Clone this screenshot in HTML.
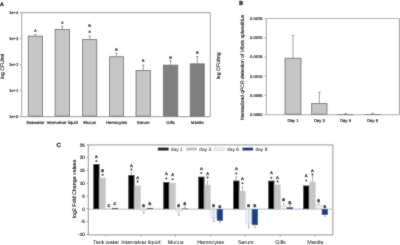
<!DOCTYPE html>
<html><head><meta charset="utf-8"><style>
html,body{margin:0;padding:0;background:#fff;}
body{width:400px;height:245px;overflow:hidden;}
svg{display:block;}
#w{width:400px;height:245px;will-change:transform;}
text{font-family:"Liberation Sans", sans-serif;text-rendering:geometricPrecision;}
</style></head><body>
<div id="w"><svg width="400" height="245" viewBox="0 0 400 245">
<defs><filter id="bl" x="0" y="0" width="400" height="245" filterUnits="userSpaceOnUse"><feConvolveMatrix order="3" kernelMatrix="1 2 1 2 20 2 1 2 1" divisor="32" edgeMode="duplicate"/></filter></defs>
<g filter="url(#bl)">
<rect x="0" y="0" width="400" height="245" fill="#fff"/>
<text x="0.00" y="6.20" font-size="5.4" text-anchor="start" font-weight="bold" font-style="normal" fill="#000" stroke="#000" stroke-width="0.3">A</text>
<line x1="21.70" y1="12.60" x2="210.30" y2="12.60" stroke="#a9a9a9" stroke-width="1.15"/>
<line x1="210.30" y1="12.60" x2="210.30" y2="116.60" stroke="#a9a9a9" stroke-width="1.15"/>
<line x1="21.70" y1="12.60" x2="21.70" y2="116.60" stroke="#a9a9a9" stroke-width="1.15"/>
<line x1="21.70" y1="116.60" x2="210.30" y2="116.60" stroke="#a9a9a9" stroke-width="1.15"/>
<line x1="19.90" y1="12.60" x2="21.70" y2="12.60" stroke="#a9a9a9" stroke-width="1.15"/>
<text x="18.40" y="14.10" font-size="4.2" text-anchor="end" font-weight="normal" font-style="normal" fill="#1a1a1a" stroke="#1a1a1a" stroke-width="0.2">1e+4</text>
<line x1="19.90" y1="38.60" x2="21.70" y2="38.60" stroke="#a9a9a9" stroke-width="1.15"/>
<text x="18.40" y="40.10" font-size="4.2" text-anchor="end" font-weight="normal" font-style="normal" fill="#1a1a1a" stroke="#1a1a1a" stroke-width="0.2">1e+3</text>
<line x1="19.90" y1="64.60" x2="21.70" y2="64.60" stroke="#a9a9a9" stroke-width="1.15"/>
<text x="18.40" y="66.10" font-size="4.2" text-anchor="end" font-weight="normal" font-style="normal" fill="#1a1a1a" stroke="#1a1a1a" stroke-width="0.2">1e+2</text>
<line x1="19.90" y1="90.60" x2="21.70" y2="90.60" stroke="#a9a9a9" stroke-width="1.15"/>
<text x="18.40" y="92.10" font-size="4.2" text-anchor="end" font-weight="normal" font-style="normal" fill="#1a1a1a" stroke="#1a1a1a" stroke-width="0.2">1e+1</text>
<line x1="19.90" y1="116.60" x2="21.70" y2="116.60" stroke="#a9a9a9" stroke-width="1.15"/>
<text x="18.40" y="118.10" font-size="4.2" text-anchor="end" font-weight="normal" font-style="normal" fill="#1a1a1a" stroke="#1a1a1a" stroke-width="0.2">1e+0</text>
<text x="4.40" y="66.30" font-size="5.0" text-anchor="middle" font-weight="normal" font-style="normal" fill="#1a1a1a" stroke="#1a1a1a" stroke-width="0.2" transform="rotate(-90 4.4 66.3)">log CFU/ml</text>
<text x="220.10" y="65.90" font-size="5.0" text-anchor="middle" font-weight="normal" font-style="normal" fill="#1a1a1a" stroke="#1a1a1a" stroke-width="0.2" transform="rotate(-90 220.1 65.9)">log CFU/mg</text>
<line x1="35.40" y1="35.70" x2="35.40" y2="34.40" stroke="#555" stroke-width="0.6"/>
<line x1="34.20" y1="34.40" x2="36.60" y2="34.40" stroke="#555" stroke-width="0.6"/>
<rect x="28.25" y="36.15" width="14.30" height="80.00" fill="#c6c6c6" stroke="#707070" stroke-width="0.9"/>
<text x="35.40" y="32.47" font-size="3.8" text-anchor="middle" font-weight="bold" font-style="normal" fill="#1a1a1a" stroke="#1a1a1a" stroke-width="0.15">A</text>
<text x="35.40" y="123.80" font-size="4.3" text-anchor="middle" font-weight="normal" font-style="normal" fill="#1a1a1a" stroke="#1a1a1a" stroke-width="0.2">Seawater</text>
<line x1="62.30" y1="29.10" x2="62.30" y2="26.30" stroke="#555" stroke-width="0.6"/>
<line x1="61.10" y1="26.30" x2="63.50" y2="26.30" stroke="#555" stroke-width="0.6"/>
<rect x="55.15" y="29.55" width="14.30" height="86.60" fill="#c6c6c6" stroke="#707070" stroke-width="0.9"/>
<text x="62.30" y="23.87" font-size="3.8" text-anchor="middle" font-weight="bold" font-style="normal" fill="#1a1a1a" stroke="#1a1a1a" stroke-width="0.15">A</text>
<text x="62.30" y="123.80" font-size="4.3" text-anchor="middle" font-weight="normal" font-style="normal" fill="#1a1a1a" stroke="#1a1a1a" stroke-width="0.2">Intervalvar liquid</text>
<line x1="89.70" y1="39.10" x2="89.70" y2="36.00" stroke="#555" stroke-width="0.6"/>
<line x1="88.50" y1="36.00" x2="90.90" y2="36.00" stroke="#555" stroke-width="0.6"/>
<rect x="82.65" y="39.55" width="14.10" height="76.60" fill="#c6c6c6" stroke="#707070" stroke-width="0.9"/>
<text x="89.70" y="27.27" font-size="3.8" text-anchor="middle" font-weight="bold" font-style="normal" fill="#1a1a1a" stroke="#1a1a1a" stroke-width="0.15">B</text>
<text x="89.70" y="32.97" font-size="3.8" text-anchor="middle" font-weight="bold" font-style="normal" fill="#1a1a1a" stroke="#1a1a1a" stroke-width="0.15">A</text>
<text x="89.70" y="123.80" font-size="4.3" text-anchor="middle" font-weight="normal" font-style="normal" fill="#1a1a1a" stroke="#1a1a1a" stroke-width="0.2">Mucus</text>
<line x1="116.45" y1="56.30" x2="116.45" y2="53.40" stroke="#555" stroke-width="0.6"/>
<line x1="115.25" y1="53.40" x2="117.65" y2="53.40" stroke="#555" stroke-width="0.6"/>
<rect x="109.45" y="56.75" width="14.00" height="59.40" fill="#c6c6c6" stroke="#707070" stroke-width="0.9"/>
<text x="116.45" y="50.77" font-size="3.8" text-anchor="middle" font-weight="bold" font-style="normal" fill="#1a1a1a" stroke="#1a1a1a" stroke-width="0.15">B</text>
<text x="116.45" y="123.80" font-size="4.3" text-anchor="middle" font-weight="normal" font-style="normal" fill="#1a1a1a" stroke="#1a1a1a" stroke-width="0.2">Hemocytes</text>
<line x1="143.20" y1="70.10" x2="143.20" y2="65.20" stroke="#555" stroke-width="0.6"/>
<line x1="142.00" y1="65.20" x2="144.40" y2="65.20" stroke="#555" stroke-width="0.6"/>
<rect x="136.05" y="70.55" width="14.30" height="45.60" fill="#c6c6c6" stroke="#707070" stroke-width="0.9"/>
<text x="143.20" y="62.37" font-size="3.8" text-anchor="middle" font-weight="bold" font-style="normal" fill="#1a1a1a" stroke="#1a1a1a" stroke-width="0.15">B</text>
<text x="143.20" y="123.80" font-size="4.3" text-anchor="middle" font-weight="normal" font-style="normal" fill="#1a1a1a" stroke="#1a1a1a" stroke-width="0.2">Serum</text>
<line x1="170.55" y1="64.70" x2="170.55" y2="60.60" stroke="#555" stroke-width="0.6"/>
<line x1="169.35" y1="60.60" x2="171.75" y2="60.60" stroke="#555" stroke-width="0.6"/>
<rect x="163.35" y="65.15" width="14.40" height="51.00" fill="#808080" stroke="#707070" stroke-width="0.9"/>
<text x="170.55" y="58.87" font-size="3.8" text-anchor="middle" font-weight="bold" font-style="normal" fill="#1a1a1a" stroke="#1a1a1a" stroke-width="0.15">B</text>
<text x="170.55" y="123.80" font-size="4.3" text-anchor="middle" font-weight="normal" font-style="normal" fill="#1a1a1a" stroke="#1a1a1a" stroke-width="0.2">Gills</text>
<line x1="197.25" y1="63.40" x2="197.25" y2="56.60" stroke="#555" stroke-width="0.6"/>
<line x1="196.05" y1="56.60" x2="198.45" y2="56.60" stroke="#555" stroke-width="0.6"/>
<rect x="190.25" y="63.85" width="14.00" height="52.30" fill="#808080" stroke="#707070" stroke-width="0.9"/>
<text x="197.25" y="54.17" font-size="3.8" text-anchor="middle" font-weight="bold" font-style="normal" fill="#1a1a1a" stroke="#1a1a1a" stroke-width="0.15">B</text>
<text x="197.25" y="123.80" font-size="4.3" text-anchor="middle" font-weight="normal" font-style="normal" fill="#1a1a1a" stroke="#1a1a1a" stroke-width="0.2">Mantle</text>
<text x="239.10" y="4.70" font-size="5.9" text-anchor="start" font-weight="bold" font-style="normal" fill="#000" stroke="#000" stroke-width="0.3">B</text>
<line x1="266.30" y1="18.50" x2="399.40" y2="18.50" stroke="#a9a9a9" stroke-width="1.15"/>
<line x1="399.40" y1="18.50" x2="399.40" y2="114.70" stroke="#a9a9a9" stroke-width="1.15"/>
<line x1="266.30" y1="18.50" x2="266.30" y2="114.70" stroke="#a9a9a9" stroke-width="1.15"/>
<line x1="266.30" y1="114.70" x2="399.40" y2="114.70" stroke="#a9a9a9" stroke-width="1.15"/>
<line x1="264.50" y1="18.50" x2="266.30" y2="18.50" stroke="#a9a9a9" stroke-width="1.15"/>
<text x="262.50" y="19.95" font-size="4.05" text-anchor="end" font-weight="normal" font-style="normal" fill="#1a1a1a" stroke="#1a1a1a" stroke-width="0.2">0.0025</text>
<line x1="264.50" y1="37.74" x2="266.30" y2="37.74" stroke="#a9a9a9" stroke-width="1.15"/>
<text x="262.50" y="39.19" font-size="4.05" text-anchor="end" font-weight="normal" font-style="normal" fill="#1a1a1a" stroke="#1a1a1a" stroke-width="0.2">0.0020</text>
<line x1="264.50" y1="56.98" x2="266.30" y2="56.98" stroke="#a9a9a9" stroke-width="1.15"/>
<text x="262.50" y="58.43" font-size="4.05" text-anchor="end" font-weight="normal" font-style="normal" fill="#1a1a1a" stroke="#1a1a1a" stroke-width="0.2">0.0015</text>
<line x1="264.50" y1="76.22" x2="266.30" y2="76.22" stroke="#a9a9a9" stroke-width="1.15"/>
<text x="262.50" y="77.67" font-size="4.05" text-anchor="end" font-weight="normal" font-style="normal" fill="#1a1a1a" stroke="#1a1a1a" stroke-width="0.2">0.0010</text>
<line x1="264.50" y1="95.46" x2="266.30" y2="95.46" stroke="#a9a9a9" stroke-width="1.15"/>
<text x="262.50" y="96.91" font-size="4.05" text-anchor="end" font-weight="normal" font-style="normal" fill="#1a1a1a" stroke="#1a1a1a" stroke-width="0.2">0.0005</text>
<line x1="264.50" y1="114.70" x2="266.30" y2="114.70" stroke="#a9a9a9" stroke-width="1.15"/>
<text x="262.50" y="116.15" font-size="4.05" text-anchor="end" font-weight="normal" font-style="normal" fill="#1a1a1a" stroke="#1a1a1a" stroke-width="0.2">0.0000</text>
<text x="244.0" y="67.4" font-size="4.95" text-anchor="middle" fill="#1a1a1a" stroke="#1a1a1a" stroke-width="0.2" transform="rotate(-90 244.0 67.4)">Normalized qPCR detection of <tspan font-style="italic">Vibrio splendidus</tspan></text>
<line x1="293.00" y1="57.80" x2="293.00" y2="35.40" stroke="#555" stroke-width="0.6"/>
<line x1="291.80" y1="35.40" x2="294.20" y2="35.40" stroke="#555" stroke-width="0.6"/>
<rect x="285.05" y="58.25" width="15.90" height="56.00" fill="#c6c6c6" stroke="#707070" stroke-width="0.9"/>
<text x="293.00" y="122.40" font-size="4.3" text-anchor="middle" font-weight="normal" font-style="normal" fill="#1a1a1a" stroke="#1a1a1a" stroke-width="0.2">Day 1</text>
<line x1="319.30" y1="103.00" x2="319.30" y2="92.30" stroke="#555" stroke-width="0.6"/>
<line x1="318.10" y1="92.30" x2="320.50" y2="92.30" stroke="#555" stroke-width="0.6"/>
<rect x="311.65" y="103.45" width="15.30" height="10.80" fill="#c6c6c6" stroke="#707070" stroke-width="0.9"/>
<text x="319.30" y="122.40" font-size="4.3" text-anchor="middle" font-weight="normal" font-style="normal" fill="#1a1a1a" stroke="#1a1a1a" stroke-width="0.2">Day 3</text>
<line x1="345.50" y1="114.20" x2="345.50" y2="113.60" stroke="#555" stroke-width="0.6"/>
<line x1="344.30" y1="113.60" x2="346.70" y2="113.60" stroke="#555" stroke-width="0.6"/>
<rect x="338.05" y="114.65" width="14.90" height="0.01" fill="#c6c6c6" stroke="#707070" stroke-width="0.9"/>
<text x="345.50" y="122.40" font-size="4.3" text-anchor="middle" font-weight="normal" font-style="normal" fill="#1a1a1a" stroke="#1a1a1a" stroke-width="0.2">Day 6</text>
<line x1="372.60" y1="114.00" x2="372.60" y2="113.20" stroke="#555" stroke-width="0.6"/>
<line x1="371.40" y1="113.20" x2="373.80" y2="113.20" stroke="#555" stroke-width="0.6"/>
<rect x="364.85" y="114.45" width="15.50" height="0.01" fill="#c6c6c6" stroke="#707070" stroke-width="0.9"/>
<text x="372.60" y="122.40" font-size="4.3" text-anchor="middle" font-weight="normal" font-style="normal" fill="#1a1a1a" stroke="#1a1a1a" stroke-width="0.2">Day 8</text>
<text x="56.60" y="147.00" font-size="6.0" text-anchor="start" font-weight="bold" font-style="normal" fill="#000" stroke="#000" stroke-width="0.3">C</text>
<line x1="88.30" y1="144.90" x2="332.90" y2="144.90" stroke="#8c8c8c" stroke-width="0.95"/>
<line x1="332.90" y1="144.90" x2="332.90" y2="234.90" stroke="#8c8c8c" stroke-width="0.95"/>
<line x1="88.30" y1="144.90" x2="88.30" y2="234.90" stroke="#8c8c8c" stroke-width="0.95"/>
<line x1="88.30" y1="234.90" x2="332.90" y2="234.90" stroke="#8c8c8c" stroke-width="0.95"/>
<line x1="88.30" y1="209.10" x2="332.90" y2="209.10" stroke="#aaa" stroke-width="0.8"/>
<line x1="86.70" y1="144.90" x2="88.30" y2="144.90" stroke="#8c8c8c" stroke-width="0.95"/>
<text x="85.00" y="146.60" font-size="4.8" text-anchor="end" font-weight="normal" font-style="normal" fill="#000" stroke="#000" stroke-width="0.15">25</text>
<line x1="86.70" y1="157.69" x2="88.30" y2="157.69" stroke="#8c8c8c" stroke-width="0.95"/>
<text x="85.00" y="159.39" font-size="4.8" text-anchor="end" font-weight="normal" font-style="normal" fill="#000" stroke="#000" stroke-width="0.15">20</text>
<line x1="86.70" y1="170.47" x2="88.30" y2="170.47" stroke="#8c8c8c" stroke-width="0.95"/>
<text x="85.00" y="172.17" font-size="4.8" text-anchor="end" font-weight="normal" font-style="normal" fill="#000" stroke="#000" stroke-width="0.15">15</text>
<line x1="86.70" y1="183.26" x2="88.30" y2="183.26" stroke="#8c8c8c" stroke-width="0.95"/>
<text x="85.00" y="184.96" font-size="4.8" text-anchor="end" font-weight="normal" font-style="normal" fill="#000" stroke="#000" stroke-width="0.15">10</text>
<line x1="86.70" y1="196.04" x2="88.30" y2="196.04" stroke="#8c8c8c" stroke-width="0.95"/>
<text x="85.00" y="197.74" font-size="4.8" text-anchor="end" font-weight="normal" font-style="normal" fill="#000" stroke="#000" stroke-width="0.15">5</text>
<line x1="86.70" y1="208.83" x2="88.30" y2="208.83" stroke="#8c8c8c" stroke-width="0.95"/>
<text x="85.00" y="210.53" font-size="4.8" text-anchor="end" font-weight="normal" font-style="normal" fill="#000" stroke="#000" stroke-width="0.15">0</text>
<line x1="86.70" y1="221.61" x2="88.30" y2="221.61" stroke="#8c8c8c" stroke-width="0.95"/>
<text x="85.00" y="223.31" font-size="4.8" text-anchor="end" font-weight="normal" font-style="normal" fill="#000" stroke="#000" stroke-width="0.15">-5</text>
<line x1="86.70" y1="234.40" x2="88.30" y2="234.40" stroke="#8c8c8c" stroke-width="0.95"/>
<text x="85.00" y="236.10" font-size="4.8" text-anchor="end" font-weight="normal" font-style="normal" fill="#000" stroke="#000" stroke-width="0.15">-10</text>
<text x="75.60" y="188.90" font-size="5.3" text-anchor="middle" font-weight="normal" font-style="normal" fill="#000" stroke="#000" stroke-width="0.15" transform="rotate(-90 75.6 188.9)">log2 Fold Change values</text>
<rect x="157.80" y="147.60" width="10.80" height="2.90" fill="#000"/>
<text x="170.80" y="151.20" font-size="4.9" text-anchor="start" font-weight="normal" font-style="normal" fill="#222" stroke="#222" stroke-width="0.05">day 1</text>
<rect x="186.20" y="147.60" width="10.80" height="2.90" fill="#bdbdbd"/>
<text x="199.20" y="151.20" font-size="4.9" text-anchor="start" font-weight="normal" font-style="normal" fill="#222" stroke="#222" stroke-width="0.05">day 3</text>
<rect x="214.30" y="147.90" width="10.20" height="2.40" fill="#ecf2fa" stroke="#b4cbe4" stroke-width="0.6"/>
<text x="227.00" y="151.20" font-size="4.9" text-anchor="start" font-weight="normal" font-style="normal" fill="#222" stroke="#222" stroke-width="0.05">day 6</text>
<rect x="242.40" y="147.60" width="10.80" height="2.90" fill="#0e3272"/>
<text x="255.40" y="151.20" font-size="4.9" text-anchor="start" font-weight="normal" font-style="normal" fill="#222" stroke="#222" stroke-width="0.05">day 8</text>
<rect x="93.30" y="164.10" width="6.20" height="45.00" fill="#000"/>
<text x="96.40" y="157.90" font-size="3.9" text-anchor="middle" font-weight="bold" font-style="normal" fill="#111" stroke="#111" stroke-width="0.3">A</text>
<circle cx="96.40" cy="161.10" r="1.0" fill="#111"/>
<rect x="99.50" y="177.70" width="6.20" height="31.40" fill="#c6c6c6"/>
<text x="102.60" y="171.80" font-size="3.9" text-anchor="middle" font-weight="bold" font-style="normal" fill="#111" stroke="#111" stroke-width="0.3">B</text>
<circle cx="102.60" cy="174.70" r="1.0" fill="#111"/>
<text x="108.80" y="206.60" font-size="3.9" text-anchor="middle" font-weight="bold" font-style="normal" fill="#111" stroke="#111" stroke-width="0.3">C</text>
<rect x="112.15" y="208.15" width="5.70" height="0.70" fill="#17428c" stroke="#0f3068" stroke-width="0.5"/>
<text x="115.00" y="204.90" font-size="3.9" text-anchor="middle" font-weight="bold" font-style="normal" fill="#111" stroke="#111" stroke-width="0.3">C</text>
<line x1="105.70" y1="234.90" x2="105.70" y2="236.30" stroke="#8c8c8c" stroke-width="0.95"/>
<text x="106.00" y="243.70" font-size="5.4" text-anchor="middle" font-weight="normal" font-style="normal" fill="#1a1a1a" stroke="#1a1a1a" stroke-width="0.06">Tank water</text>
<line x1="131.38" y1="175.00" x2="131.38" y2="172.80" stroke="#666" stroke-width="0.5"/>
<line x1="130.58" y1="172.80" x2="132.18" y2="172.80" stroke="#666" stroke-width="0.5"/>
<rect x="128.28" y="175.00" width="6.20" height="34.10" fill="#000"/>
<text x="131.38" y="166.80" font-size="3.9" text-anchor="middle" font-weight="bold" font-style="normal" fill="#111" stroke="#111" stroke-width="0.3">A</text>
<circle cx="131.38" cy="169.40" r="1.0" fill="#111"/>
<rect x="134.48" y="185.50" width="6.20" height="23.60" fill="#c6c6c6"/>
<text x="137.58" y="178.70" font-size="3.9" text-anchor="middle" font-weight="bold" font-style="normal" fill="#111" stroke="#111" stroke-width="0.3">A</text>
<circle cx="137.58" cy="181.40" r="1.0" fill="#111"/>
<line x1="143.78" y1="211.20" x2="143.78" y2="213.20" stroke="#666" stroke-width="0.5"/>
<line x1="142.98" y1="213.20" x2="144.58" y2="213.20" stroke="#666" stroke-width="0.5"/>
<rect x="140.93" y="209.35" width="5.70" height="1.60" fill="#ecf2fa" stroke="#b4cbe4" stroke-width="0.5"/>
<text x="143.78" y="207.40" font-size="3.9" text-anchor="middle" font-weight="bold" font-style="normal" fill="#111" stroke="#111" stroke-width="0.3">B</text>
<rect x="147.13" y="208.15" width="5.70" height="0.70" fill="#17428c" stroke="#0f3068" stroke-width="0.5"/>
<text x="149.98" y="204.80" font-size="3.9" text-anchor="middle" font-weight="bold" font-style="normal" fill="#111" stroke="#111" stroke-width="0.3">B</text>
<line x1="140.60" y1="234.90" x2="140.60" y2="236.30" stroke="#8c8c8c" stroke-width="0.95"/>
<text x="140.90" y="243.70" font-size="5.4" text-anchor="middle" font-weight="normal" font-style="normal" fill="#1a1a1a" stroke="#1a1a1a" stroke-width="0.06">Intervalvar liquid</text>
<rect x="163.26" y="182.00" width="6.20" height="27.10" fill="#000"/>
<text x="166.36" y="175.40" font-size="3.9" text-anchor="middle" font-weight="bold" font-style="normal" fill="#111" stroke="#111" stroke-width="0.3">A</text>
<circle cx="166.36" cy="178.40" r="1.0" fill="#111"/>
<rect x="169.46" y="183.00" width="6.20" height="26.10" fill="#c6c6c6"/>
<text x="172.56" y="176.40" font-size="3.9" text-anchor="middle" font-weight="bold" font-style="normal" fill="#111" stroke="#111" stroke-width="0.3">A</text>
<circle cx="172.56" cy="179.30" r="1.0" fill="#111"/>
<line x1="178.76" y1="211.90" x2="178.76" y2="215.60" stroke="#666" stroke-width="0.5"/>
<line x1="177.96" y1="215.60" x2="179.56" y2="215.60" stroke="#666" stroke-width="0.5"/>
<rect x="175.91" y="209.35" width="5.70" height="2.30" fill="#ecf2fa" stroke="#b4cbe4" stroke-width="0.5"/>
<text x="178.76" y="207.20" font-size="3.9" text-anchor="middle" font-weight="bold" font-style="normal" fill="#111" stroke="#111" stroke-width="0.3">B</text>
<line x1="184.96" y1="208.60" x2="184.96" y2="206.80" stroke="#666" stroke-width="0.5"/>
<line x1="184.16" y1="206.80" x2="185.76" y2="206.80" stroke="#666" stroke-width="0.5"/>
<rect x="182.11" y="208.85" width="5.70" height="0.01" fill="#17428c" stroke="#0f3068" stroke-width="0.5"/>
<text x="184.96" y="204.80" font-size="3.9" text-anchor="middle" font-weight="bold" font-style="normal" fill="#111" stroke="#111" stroke-width="0.3">B</text>
<line x1="175.50" y1="234.90" x2="175.50" y2="236.30" stroke="#8c8c8c" stroke-width="0.95"/>
<text x="175.80" y="243.70" font-size="5.4" text-anchor="middle" font-weight="normal" font-style="normal" fill="#1a1a1a" stroke="#1a1a1a" stroke-width="0.06">Mucus</text>
<rect x="198.24" y="176.70" width="6.20" height="32.40" fill="#000"/>
<text x="201.34" y="170.40" font-size="3.9" text-anchor="middle" font-weight="bold" font-style="normal" fill="#111" stroke="#111" stroke-width="0.3">A</text>
<circle cx="201.34" cy="173.10" r="1.0" fill="#111"/>
<line x1="207.54" y1="184.80" x2="207.54" y2="181.20" stroke="#666" stroke-width="0.5"/>
<line x1="206.74" y1="181.20" x2="208.34" y2="181.20" stroke="#666" stroke-width="0.5"/>
<rect x="204.44" y="184.80" width="6.20" height="24.30" fill="#c6c6c6"/>
<text x="207.54" y="174.90" font-size="3.9" text-anchor="middle" font-weight="bold" font-style="normal" fill="#111" stroke="#111" stroke-width="0.3">A</text>
<circle cx="207.54" cy="177.60" r="1.0" fill="#111"/>
<line x1="213.74" y1="218.10" x2="213.74" y2="221.60" stroke="#666" stroke-width="0.5"/>
<line x1="212.94" y1="221.60" x2="214.54" y2="221.60" stroke="#666" stroke-width="0.5"/>
<rect x="210.89" y="209.35" width="5.70" height="8.50" fill="#ecf2fa" stroke="#b4cbe4" stroke-width="0.5"/>
<line x1="213.74" y1="210.10" x2="213.74" y2="218.10" stroke="#a8b4c4" stroke-width="0.5"/>
<text x="213.74" y="207.00" font-size="3.9" text-anchor="middle" font-weight="bold" font-style="normal" fill="#111" stroke="#111" stroke-width="0.3">B</text>
<line x1="219.94" y1="220.90" x2="219.94" y2="222.70" stroke="#666" stroke-width="0.5"/>
<line x1="219.14" y1="222.70" x2="220.74" y2="222.70" stroke="#666" stroke-width="0.5"/>
<rect x="217.09" y="209.35" width="5.70" height="11.30" fill="#17428c" stroke="#0f3068" stroke-width="0.5"/>
<text x="219.94" y="207.60" font-size="3.9" text-anchor="middle" font-weight="bold" font-style="normal" fill="#111" stroke="#111" stroke-width="0.3">B</text>
<line x1="210.40" y1="234.90" x2="210.40" y2="236.30" stroke="#8c8c8c" stroke-width="0.95"/>
<text x="210.70" y="243.70" font-size="5.4" text-anchor="middle" font-weight="normal" font-style="normal" fill="#1a1a1a" stroke="#1a1a1a" stroke-width="0.06">Hemocytes</text>
<line x1="236.32" y1="180.60" x2="236.32" y2="176.70" stroke="#666" stroke-width="0.5"/>
<line x1="235.52" y1="176.70" x2="237.12" y2="176.70" stroke="#666" stroke-width="0.5"/>
<rect x="233.22" y="180.60" width="6.20" height="28.50" fill="#000"/>
<text x="236.32" y="170.40" font-size="3.9" text-anchor="middle" font-weight="bold" font-style="normal" fill="#111" stroke="#111" stroke-width="0.3">A</text>
<circle cx="236.32" cy="173.50" r="1.0" fill="#111"/>
<line x1="242.52" y1="190.80" x2="242.52" y2="186.80" stroke="#666" stroke-width="0.5"/>
<line x1="241.72" y1="186.80" x2="243.32" y2="186.80" stroke="#666" stroke-width="0.5"/>
<rect x="239.42" y="190.80" width="6.20" height="18.30" fill="#c6c6c6"/>
<text x="242.52" y="180.30" font-size="3.9" text-anchor="middle" font-weight="bold" font-style="normal" fill="#111" stroke="#111" stroke-width="0.3">A</text>
<circle cx="242.52" cy="183.20" r="1.0" fill="#111"/>
<line x1="248.72" y1="223.70" x2="248.72" y2="227.90" stroke="#666" stroke-width="0.5"/>
<line x1="247.92" y1="227.90" x2="249.52" y2="227.90" stroke="#666" stroke-width="0.5"/>
<rect x="245.87" y="209.35" width="5.70" height="14.10" fill="#ecf2fa" stroke="#b4cbe4" stroke-width="0.5"/>
<line x1="248.72" y1="210.10" x2="248.72" y2="223.70" stroke="#a8b4c4" stroke-width="0.5"/>
<text x="248.72" y="206.80" font-size="3.9" text-anchor="middle" font-weight="bold" font-style="normal" fill="#111" stroke="#111" stroke-width="0.3">B</text>
<line x1="254.92" y1="225.10" x2="254.92" y2="227.60" stroke="#666" stroke-width="0.5"/>
<line x1="254.12" y1="227.60" x2="255.72" y2="227.60" stroke="#666" stroke-width="0.5"/>
<rect x="252.07" y="209.35" width="5.70" height="15.50" fill="#17428c" stroke="#0f3068" stroke-width="0.5"/>
<text x="254.92" y="207.20" font-size="3.9" text-anchor="middle" font-weight="bold" font-style="normal" fill="#111" stroke="#111" stroke-width="0.3">B</text>
<line x1="245.30" y1="234.90" x2="245.30" y2="236.30" stroke="#8c8c8c" stroke-width="0.95"/>
<text x="245.60" y="243.70" font-size="5.4" text-anchor="middle" font-weight="normal" font-style="normal" fill="#1a1a1a" stroke="#1a1a1a" stroke-width="0.06">Serum</text>
<rect x="268.20" y="180.70" width="6.20" height="28.40" fill="#000"/>
<text x="271.30" y="174.40" font-size="3.9" text-anchor="middle" font-weight="bold" font-style="normal" fill="#111" stroke="#111" stroke-width="0.3">A</text>
<circle cx="271.30" cy="177.70" r="1.0" fill="#111"/>
<rect x="274.40" y="184.60" width="6.20" height="24.50" fill="#c6c6c6"/>
<text x="277.50" y="178.90" font-size="3.9" text-anchor="middle" font-weight="bold" font-style="normal" fill="#111" stroke="#111" stroke-width="0.3">A</text>
<circle cx="277.50" cy="181.60" r="1.0" fill="#111"/>
<line x1="283.70" y1="205.70" x2="283.70" y2="203.60" stroke="#666" stroke-width="0.5"/>
<line x1="282.90" y1="203.60" x2="284.50" y2="203.60" stroke="#666" stroke-width="0.5"/>
<rect x="280.85" y="205.95" width="5.70" height="2.90" fill="#ecf2fa" stroke="#b4cbe4" stroke-width="0.5"/>
<text x="283.70" y="201.00" font-size="3.9" text-anchor="middle" font-weight="bold" font-style="normal" fill="#111" stroke="#111" stroke-width="0.3">B</text>
<line x1="289.90" y1="207.50" x2="289.90" y2="205.20" stroke="#666" stroke-width="0.5"/>
<line x1="289.10" y1="205.20" x2="290.70" y2="205.20" stroke="#666" stroke-width="0.5"/>
<rect x="287.05" y="207.75" width="5.70" height="1.10" fill="#17428c" stroke="#0f3068" stroke-width="0.5"/>
<text x="289.90" y="203.70" font-size="3.9" text-anchor="middle" font-weight="bold" font-style="normal" fill="#111" stroke="#111" stroke-width="0.3">B</text>
<line x1="280.20" y1="234.90" x2="280.20" y2="236.30" stroke="#8c8c8c" stroke-width="0.95"/>
<text x="280.50" y="243.70" font-size="5.4" text-anchor="middle" font-weight="normal" font-style="normal" fill="#1a1a1a" stroke="#1a1a1a" stroke-width="0.06">Gills</text>
<rect x="303.18" y="185.50" width="6.20" height="23.60" fill="#000"/>
<text x="306.28" y="177.30" font-size="3.9" text-anchor="middle" font-weight="bold" font-style="normal" fill="#111" stroke="#111" stroke-width="0.3">A</text>
<circle cx="306.28" cy="180.60" r="1.0" fill="#111"/>
<line x1="312.48" y1="181.60" x2="312.48" y2="176.80" stroke="#666" stroke-width="0.5"/>
<line x1="311.68" y1="176.80" x2="313.28" y2="176.80" stroke="#666" stroke-width="0.5"/>
<rect x="309.38" y="181.60" width="6.20" height="27.50" fill="#c6c6c6"/>
<text x="312.48" y="171.70" font-size="3.9" text-anchor="middle" font-weight="bold" font-style="normal" fill="#111" stroke="#111" stroke-width="0.3">A</text>
<circle cx="312.48" cy="174.40" r="1.0" fill="#111"/>
<line x1="318.68" y1="204.80" x2="318.68" y2="203.40" stroke="#666" stroke-width="0.5"/>
<line x1="317.88" y1="203.40" x2="319.48" y2="203.40" stroke="#666" stroke-width="0.5"/>
<rect x="315.83" y="205.05" width="5.70" height="3.80" fill="#ecf2fa" stroke="#b4cbe4" stroke-width="0.5"/>
<text x="318.68" y="201.50" font-size="3.9" text-anchor="middle" font-weight="bold" font-style="normal" fill="#111" stroke="#111" stroke-width="0.3">B</text>
<line x1="324.88" y1="215.00" x2="324.88" y2="216.40" stroke="#666" stroke-width="0.5"/>
<line x1="324.08" y1="216.40" x2="325.68" y2="216.40" stroke="#666" stroke-width="0.5"/>
<rect x="322.03" y="209.35" width="5.70" height="5.40" fill="#17428c" stroke="#0f3068" stroke-width="0.5"/>
<text x="324.88" y="207.70" font-size="3.9" text-anchor="middle" font-weight="bold" font-style="normal" fill="#111" stroke="#111" stroke-width="0.3">B</text>
<line x1="315.10" y1="234.90" x2="315.10" y2="236.30" stroke="#8c8c8c" stroke-width="0.95"/>
<text x="315.40" y="243.70" font-size="5.4" text-anchor="middle" font-weight="normal" font-style="normal" fill="#1a1a1a" stroke="#1a1a1a" stroke-width="0.06">Mantle</text>
</g>
</svg></div>
</body></html>
